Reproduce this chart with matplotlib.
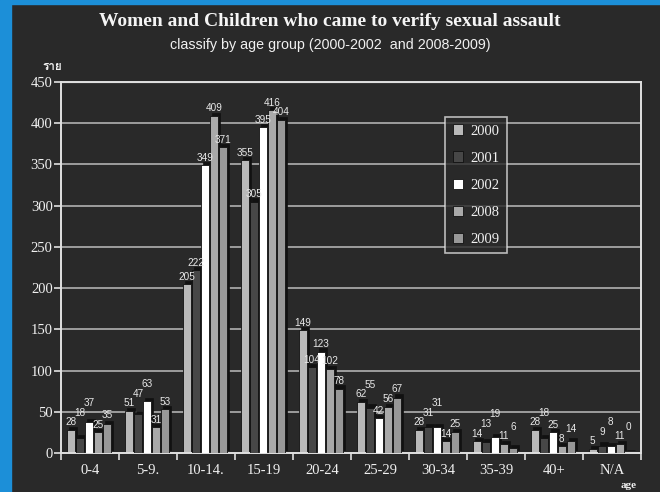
import numpy as np
import matplotlib
matplotlib.use('Agg')
import matplotlib.pyplot as plt
from matplotlib import font_manager
from matplotlib.ft2font import FT2Font
from matplotlib.patches import Rectangle

# age groups and yearly counts
groups = ['0-4', '5-9.', '10-14.', '15-19', '20-24', '25-29', '30-34', '35-39', '40+', 'N/A']
years = ['2000', '2001', '2002', '2008', '2009']
y2000 = [28, 51, 205, 355, 149, 62, 28, 14, 28, 5]
y2001 = [18, 47, 222, 305, 104, 55, 31, 13, 18, 9]
y2002 = [37, 63, 349, 395, 123, 42, 31, 19, 25, 8]
y2008 = [25, 31, 409, 416, 102, 56, 14, 11, 8, 11]
y2009 = [35, 53, 371, 404, 78, 67, 25, 6, 14, 0]
series = [y2000, y2001, y2002, y2008, y2009]
colors = ['#b9b9b9', '#474747', '#ffffff', '#a9a9a9', '#989898']


def family_with(text):
    # first installed family that has every glyph of text
    for f in font_manager.fontManager.ttflist:
        try:
            ft = FT2Font(f.fname)
            if all(ft.get_char_index(ord(ch)) for ch in text):
                return f.name
        except Exception:
            continue
    return 'DejaVu Sans'


unit = 'ราย'
thai_family = family_with(unit)

bg = '#292929'
fig = plt.figure(figsize=(6.6, 4.92), dpi=100, facecolor=bg)

# blue frame on the left and top edges
fig.patches.append(Rectangle((0, 0), 11/660, 1, transform=fig.transFigure, color='#1c8fd8', zorder=0))
fig.patches.append(Rectangle((0, 1-4/492), 1, 4/492, transform=fig.transFigure, color='#1c8fd8', zorder=0))

ax = fig.add_axes([61/660, 39/492, 580/660, 371/492])
ax.set_facecolor(bg)
ax.set_xlim(0, 10)
ax.set_ylim(0, 450)

for y in range(50, 451, 50):
    ax.axhline(y, color='#b0b0b0', lw=1.6 if y == 450 else 1.2, zorder=1)

x = np.arange(len(groups))
w = 0.14
step = 0.155
dx, dy = 0.035, 4
for k, (vals, c) in enumerate(zip(series, colors)):
    pos = x + 0.17 + k * step
    # dark depth behind each bar
    ax.bar(pos + dx, vals, width=w, bottom=dy, color='#111111', edgecolor='#111111', lw=0.5, zorder=2 + k)
    ax.bar(pos, vals, width=w, color=c, edgecolor='#111111', lw=0.6, zorder=2 + k, label=years[k])

# value labels, pushed up when they would collide with the neighbour on the left
lab_h = 12
for g in range(len(groups)):
    prev = -100
    for k, vals in enumerate(series):
        v = vals[g]
        ly = v + 3
        if abs(ly - prev) < lab_h:
            ly = prev + lab_h
        prev = ly
        ax.text(x[g] + 0.17 + k * step, ly, str(v), ha='center', va='bottom', fontsize=7.2,
                color='#e8e8e8', family=['Liberation Sans Narrow', 'Liberation Sans'], zorder=20)

ax.set_xticks(np.arange(0, 11))
ax.set_xticklabels([])
ax.set_xticks(x + 0.5, minor=True)
ax.set_xticklabels(groups, minor=True, fontsize=10.5, color='#f0f0f0', family='Liberation Serif')
ax.tick_params(axis='x', which='minor', length=0, pad=8)
ax.tick_params(axis='x', which='major', length=5, color='#e0e0e0', width=1.2)
ax.set_yticks(range(0, 451, 50))
ax.set_yticklabels([str(v) for v in range(0, 451, 50)], fontsize=10.5, color='#f0f0f0', family='Liberation Serif')
ax.tick_params(axis='y', length=5, color='#e0e0e0', width=1.2, pad=1)
for s in ax.spines.values():
    s.set_color('#e0e0e0')
    s.set_linewidth(1.4)

leg = ax.legend(loc='upper left', bbox_to_anchor=(0.65, 0.925), frameon=True,
                prop={'family': 'Liberation Serif', 'size': 10.5}, handlelength=0.7, handleheight=0.7,
                handletextpad=0.5, labelspacing=0.95, borderpad=0.5, fancybox=False)
leg.get_frame().set_facecolor(bg)
leg.get_frame().set_edgecolor('#e0e0e0')
leg.get_frame().set_linewidth(1.2)
for t in leg.get_texts():
    t.set_color('#f0f0f0')

fig.text(0.5, 1 - 22/492, 'Women and Children who came to verify sexual assault', ha='center', va='center',
         fontsize=14, fontweight='bold', color='#f5f5f5', family='Liberation Serif')
fig.text(0.5, 1 - 45/492, 'classify by age group (2000-2002  and 2008-2009)', ha='center', va='center',
         fontsize=10.3, color='#f0f0f0', family=['Liberation Sans Narrow', 'Liberation Sans'])
fig.text(52/660, 1 - 67/492, unit, ha='center', va='center', fontsize=8.5, fontweight='bold',
         color='#f0f0f0', family=[thai_family, 'DejaVu Sans'])
fig.text(629/660, 1 - 486/492, 'age', ha='center', va='center', fontsize=8, fontweight='bold',
         color='#f0f0f0', family='Liberation Serif')

fig.savefig('out.png', dpi=100, facecolor=bg)
